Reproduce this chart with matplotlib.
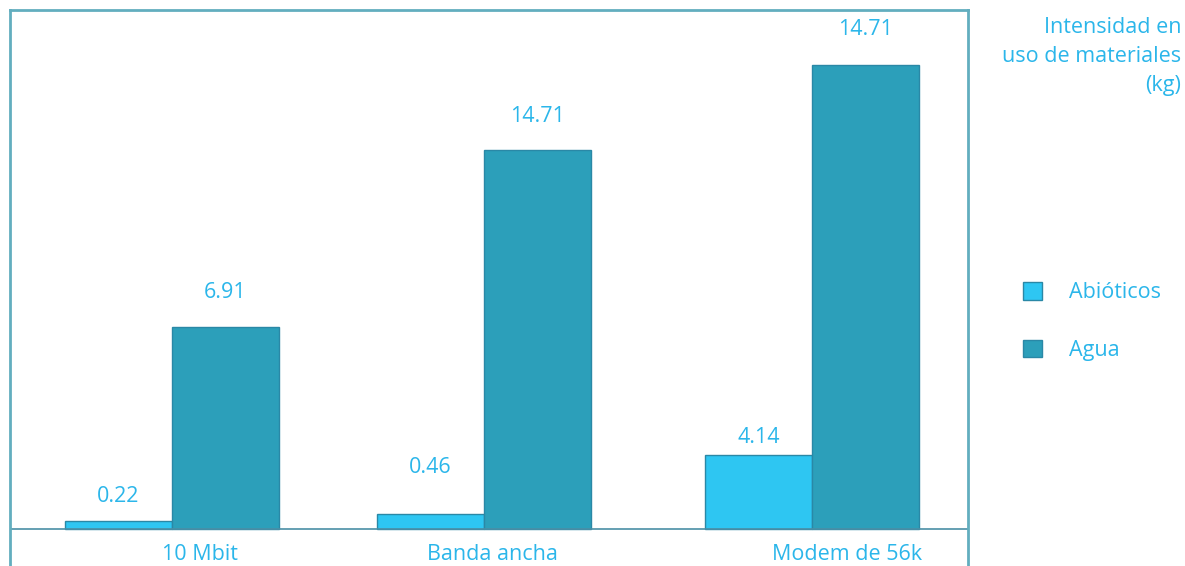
import matplotlib.pyplot as plt
from matplotlib.patches import Patch

categories = ['10 Mbit', 'Banda ancha', 'Modem de 56k']
series = ['Abióticos', 'Agua']
# bar heights as drawn (the printed labels do not all match the bar lengths)
abioticos = [0.27, 0.50, 2.54]
agua = [6.94, 13.02, 15.94]
abioticos_labels = ['0.22', '0.46', '4.14']
agua_labels = ['6.91', '14.71', '14.71']

# layout
group_pos = [0, 1, 2.054]
label_shift = [0.09, 0.03, 0.11]
bar_w = 0.343
gap_abio = [10, 26, 5]      # label gap above bar, points
gap_agua = [17, 17, 18]

c_abio = '#2EC6F2'
c_agua = '#2C9FBA'
c_edge = '#2A88A6'
c_text = '#2BB6EA'
c_frame = '#62AEBF'
fs = 15.5

plt.rcParams['font.family'] = ['Open Sans', 'DejaVu Sans']

fig = plt.figure(figsize=(11.85, 5.66), dpi=100)
ax = fig.add_axes([10 / 1185, 0, 958 / 1185, 556 / 566])

px = 29.1  # pixels per unit
ax.set_xlim(-0.518, 2.553)
ax.set_ylim(-37 / px, 519 / px)

xa = [g - bar_w / 2 for g in group_pos]
xb = [g + bar_w / 2 for g in group_pos]
ax.bar(xa, abioticos, bar_w, color=c_abio, edgecolor=c_edge, linewidth=1)
ax.bar(xb, agua, bar_w, color=c_agua, edgecolor=c_edge, linewidth=1)

for x, h, t, g in zip(xa, abioticos, abioticos_labels, gap_abio):
    ax.annotate(t, (x, h), xytext=(0, g), textcoords='offset points',
                ha='center', va='bottom', color=c_text, fontsize=fs)
for x, h, t, g in zip(xb, agua, agua_labels, gap_agua):
    ax.annotate(t, (x, h), xytext=(0, g), textcoords='offset points',
                ha='center', va='bottom', color=c_text, fontsize=fs)

for g, s, c in zip(group_pos, label_shift, categories):
    ax.text(g + s, -25 / px, c, ha='center', va='center', color=c_text, fontsize=fs)

ax.axhline(0, color='#4A8FA6', linewidth=1.2)
ax.set_xticks([])
ax.set_yticks([])
ax.spines['bottom'].set_visible(False)
for s in ['left', 'right', 'top']:
    ax.spines[s].set_color(c_frame)
    ax.spines[s].set_linewidth(2)

fig.text(1181 / 1185, 1 - 17 / 566, 'Intensidad en\nuso de materiales\n(kg)',
         ha='right', va='top', color=c_text, fontsize=fs, linespacing=1.5)

handles = [Patch(facecolor=c_abio, edgecolor=c_edge), Patch(facecolor=c_agua, edgecolor=c_edge)]
leg = fig.legend(handles, series, loc='upper left', bbox_to_anchor=(1004 / 1185, 1 - 263 / 566),
                 frameon=False, fontsize=fs, handlelength=0.85, handleheight=0.85,
                 handletextpad=1.25, labelspacing=1.7)
for t in leg.get_texts():
    t.set_color(c_text)

fig.savefig('out.png', dpi=100)
